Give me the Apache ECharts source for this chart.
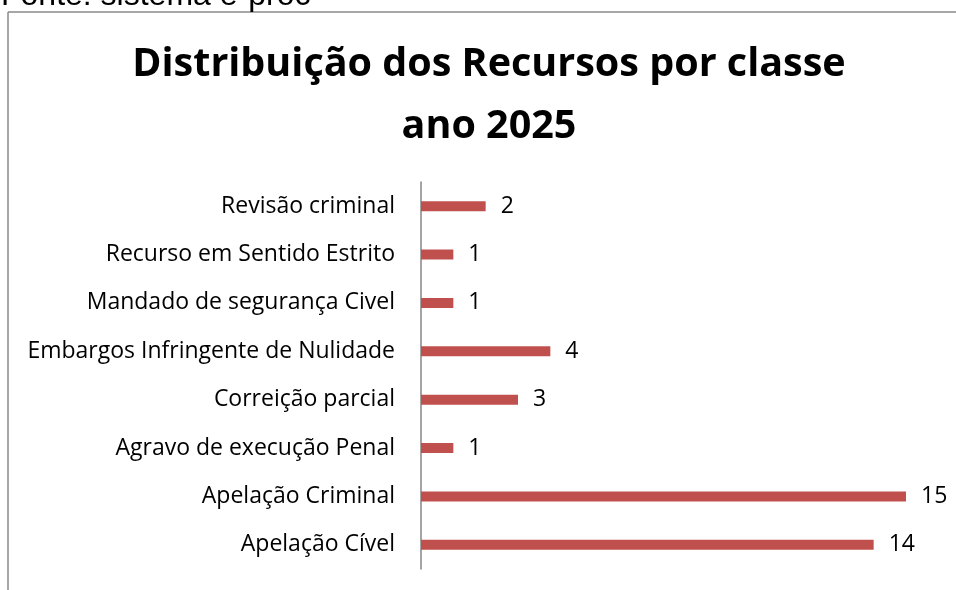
<!DOCTYPE html>
<html>
<head>
<meta charset="utf-8">
<script src="https://cdn.jsdelivr.net/npm/echarts@6/dist/echarts.min.js"></script>
<style>
  html, body { margin: 0; padding: 0; background: #fff; }
  #chart { width: 956px; height: 590px; }
</style>
</head>
<body>
<div id="chart"></div>
<script>
// classes, top to bottom as shown
const classes = [
  'Revisão criminal',
  'Recurso em Sentido Estrito',
  'Mandado de segurança Civel',
  'Embargos Infringente de Nulidade',
  'Correição parcial',
  'Agravo de execução Penal',
  'Apelação Criminal',
  'Apelação Cível'
];
const totals = [2, 1, 1, 4, 3, 1, 15, 14];

const FONT = '"Open Sans", "Noto Sans", sans-serif';

let myChart = echarts.init(document.getElementById('chart'));
let option = {
  backgroundColor: '#fff',
  animation: false,
  title: {
    text: 'Distribuição dos Recursos por classe\nano 2025',
    left: 484,
    textAlign: 'center',
    top: 29,
    textStyle: {
      fontFamily: FONT,
      fontWeight: 'bold',
      fontSize: 39.5,
      lineHeight: 62,
      color: '#000'
    }
  },
  graphic: [
    // frame of the chart area
    { type: 'line', shape: { x1: 8, y1: 12, x2: 956, y2: 12 }, style: { stroke: '#8a8a8a', lineWidth: 1.5 } },
    { type: 'line', shape: { x1: 8, y1: 12, x2: 8, y2: 590 }, style: { stroke: '#8a8a8a', lineWidth: 1.5 } },
    // source note, cut off at the top
    { type: 'text', left: 1, top: -20, style: { text: 'Fonte: sistema e-proc', font: '32px "Liberation Sans", Arial, sans-serif', fill: '#000' } }
  ],
  grid: {
    left: 421,
    right: 50,
    top: 182,
    bottom: 21
  },
  xAxis: {
    type: 'value',
    min: 0,
    max: 15,
    show: false
  },
  yAxis: {
    type: 'category',
    inverse: true,
    data: classes,
    axisTick: { show: false },
    axisLine: { lineStyle: { color: '#868686', width: 1.5 } },
    axisLabel: {
      margin: 26,
      fontFamily: FONT,
      fontSize: 23,
      color: '#000'
    }
  },
  series: [{
    type: 'bar',
    data: totals,
    barWidth: 10,
    itemStyle: { color: '#C0504D' },
    label: {
      show: true,
      position: 'right',
      distance: 15,
      fontFamily: FONT,
      fontSize: 23,
      color: '#000'
    }
  }]
};
myChart.setOption(option);
</script>
</body>
</html>
